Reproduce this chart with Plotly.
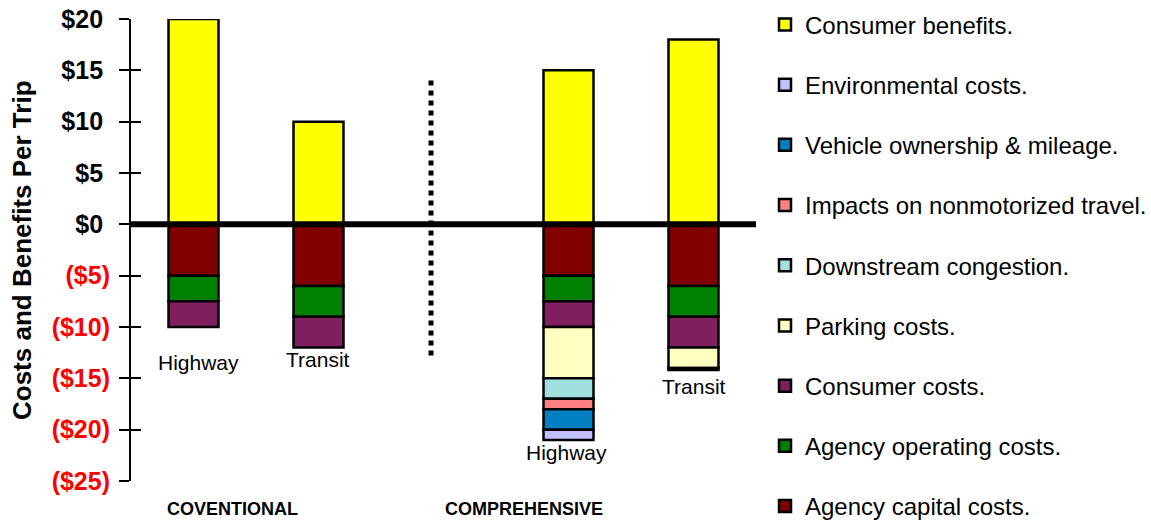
import plotly.graph_objects as go

# Bar slots: two conventional bars, a gap, two comprehensive bars
positions = [0, 1, 3, 4]
bar_labels = ["Highway", "Transit", "Highway", "Transit"]

# Cost / benefit components per trip (dollars); costs are negative
consumer_benefits = [20, 10, 15, 18]
agency_capital = [-5, -6, -5, -6]
agency_operating = [-2.5, -3, -2.5, -3]
consumer_costs = [-2.5, -3, -2.5, -3]
parking_costs = [0, 0, -5, -2]
downstream_congestion = [0, 0, -2, 0]
nonmotorized_impacts = [0, 0, -1, 0]
vehicle_ownership = [0, 0, -2, 0]
environmental_costs = [0, 0, -1, -0.2]

# Stacking order (nearest zero first)
series = [
    ("Agency capital costs.", agency_capital, "#800000"),
    ("Agency operating costs.", agency_operating, "#008000"),
    ("Consumer costs.", consumer_costs, "#7F1F5F"),
    ("Parking costs.", parking_costs, "#FFFFC0"),
    ("Downstream congestion.", downstream_congestion, "#A0E0E0"),
    ("Impacts on nonmotorized travel.", nonmotorized_impacts, "#FF8080"),
    ("Vehicle ownership & mileage.", vehicle_ownership, "#0080C0"),
    ("Environmental costs.", environmental_costs, "#C0C0FF"),
    ("Consumer benefits.", consumer_benefits, "#FFFF00"),
]

NB = "\u00a0"
tick_vals = [20, 15, 10, 5, 0, -5, -10, -15, -20, -25]
tick_text = ["$20" + NB, "$15" + NB, "$10" + NB, "$5" + NB, "$0" + NB,
             "<span style='color:#FF0000'>($5)</span>",
             "<span style='color:#FF0000'>($10)</span>",
             "<span style='color:#FF0000'>($15)</span>",
             "<span style='color:#FF0000'>($20)</span>",
             "<span style='color:#FF0000'>($25)</span>"]

group_names = ["COVENTIONAL", "COMPREHENSIVE"]
group_x = [0.308, 2.644]

FONT = "Liberation Sans, Arial, sans-serif"

fig = go.Figure()
n = len(series)
for i, (name, vals, color) in enumerate(series):
    fig.add_trace(go.Bar(
        x=positions, y=vals, name=name, width=0.4,
        marker=dict(color=color, line=dict(color="black", width=2.5)),
        legendgroup=f"g{i}", legendrank=100 + n - i,
    ))

# invisible companion axis to draw the inner half of the crossing ticks
fig.add_trace(go.Scatter(x=[positions[0]], y=[0], yaxis="y2", mode="markers",
                         marker=dict(opacity=0), showlegend=False, hoverinfo="skip"))

# bar labels under each stack
totals = [sum(v for v in col if v < 0) for col in zip(*[s[1] for s in series])]
label_yshift = [-35, -12, -13, -16]
label_xshift = [5, -1, -2, 0]
for x, lbl, tot, ys, xs in zip(positions, bar_labels, totals, label_yshift, label_xshift):
    fig.add_annotation(x=x, y=tot, text=lbl, showarrow=False, yanchor="middle",
                       yshift=ys, xshift=xs,
                       font=dict(family=FONT, size=21, color="black"))

for name, gx in zip(group_names, group_x):
    fig.add_annotation(x=gx, y=0, xref="x", yref="paper", text=f"<b>{name}</b>",
                       showarrow=False, yanchor="middle", yshift=-28,
                       font=dict(family=FONT, size=18, color="black"))

# axis title
fig.add_annotation(x=-0.1744, y=0.5, xref="paper", yref="paper",
                   text="<b>Costs and Benefits Per Trip</b>", textangle=-90,
                   showarrow=False, xanchor="center", yanchor="middle",
                   font=dict(family=FONT, size=26, color="black"))

# heavy zero line
fig.add_shape(type="line", xref="x", yref="y", x0=-0.5, x1=4.5, y0=0, y1=0,
              line=dict(color="black", width=6), layer="above")
# dotted divider between the two scenarios
fig.add_shape(type="line", xref="x", yref="y", x0=1.9, x1=1.9, y0=14, y1=-13,
              line=dict(color="black", width=5, dash="dot"), layer="above")

fig.update_layout(
    barmode="relative",
    width=1151, height=523,
    margin=dict(l=131, r=395, t=19, b=42, autoexpand=False),
    paper_bgcolor="white", plot_bgcolor="white",
    font=dict(family=FONT, color="black"),
    xaxis=dict(range=[-0.5, 4.5], showticklabels=False, showgrid=False,
               zeroline=False, showline=False, ticks=""),
    yaxis=dict(range=[-25, 20], tickvals=tick_vals, ticktext=tick_text,
               showgrid=False, zeroline=False, showline=True, linecolor="black",
               linewidth=2, ticks="outside", ticklen=10, tickwidth=2,
               tickcolor="black", ticklabelstandoff=4,
               tickfont=dict(family=FONT, size=25, color="black", weight="bold")),
    yaxis2=dict(range=[-25, 20], overlaying="y", side="left", tickvals=tick_vals,
                showticklabels=False, showgrid=False, zeroline=False,
                showline=False, ticks="inside", ticklen=10, tickwidth=2,
                tickcolor="black"),
    legend=dict(x=1.0144, y=1.036, xanchor="left", yanchor="top",
                traceorder="grouped", tracegroupgap=26, maxheight=600,
                font=dict(family=FONT, size=24, color="black"),
                itemwidth=30, bgcolor="rgba(0,0,0,0)"),
    showlegend=True,
)

fig.write_html("out.html")
